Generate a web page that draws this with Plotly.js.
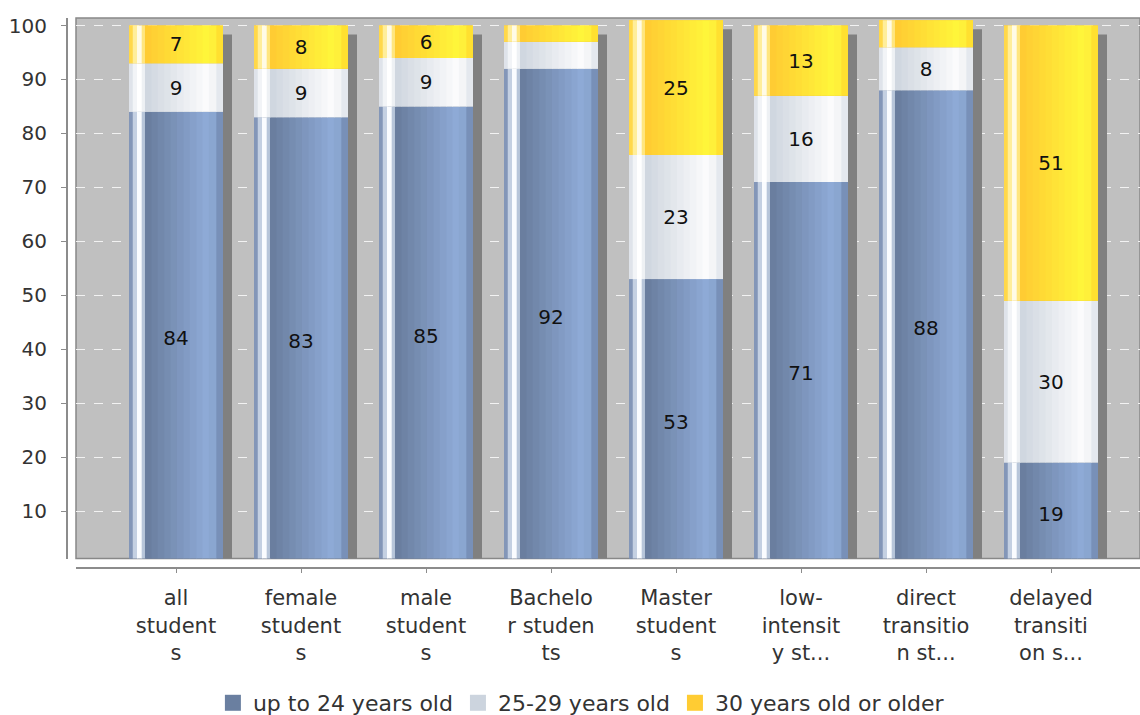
<!DOCTYPE html>
<html>
<head>
<meta charset="utf-8">
<script src="https://cdn.plot.ly/plotly-3.0.1.min.js"></script>
<style>
  html, body { margin: 0; padding: 0; background: #ffffff; }
  #chart { width: 1140px; height: 715px; }
</style>
</head>
<body>
<div id="chart"></div>
<script>
// ---- data ----
const categories = [
  "all<br>student<br>s",
  "female<br>student<br>s",
  "male<br>student<br>s",
  "Bachelo<br>r studen<br>ts",
  "Master<br>student<br>s",
  "low-<br>intensit<br>y st...",
  "direct<br>transitio<br>n st...",
  "delayed<br>transiti<br>on s..."
];
const upTo24   = [84, 83, 85, 92, 53, 71, 88, 19];
const age25to29 = [9, 9, 9, 5, 23, 16, 8, 30];
const age30plus = [7, 8, 6, 3, 25, 13, 5, 51];
const seriesNames = ["up to 24 years old", "25-29 years old", "30 years old or older"];
const yTickVals = [10, 20, 30, 40, 50, 60, 70, 80, 90, 100];

// ---- styling ----
const FONT = "DejaVu Sans, Verdana, sans-serif";
const W = 0.752;            // bar width in category units
const legendColors = ["#6a7fa0", "#ccd4de", "#ffcc33"];
// gradient stops per series: [f0, f1, colorStart, colorEnd, nStrips]
const gradients = [
  [[0.00,0.04,"#8396b8","#8396b8",1],[0.04,0.085,"#c4d0e2","#e6ecf4",1],[0.085,0.135,"#fafcff","#fafcff",1],
   [0.135,0.17,"#b8c6da","#8698b8",1],[0.17,0.85,"#6a7e9f","#8eaad6",10],[0.85,0.93,"#8aa6d0","#819bc4",1],[0.93,1.0,"#7890b8","#6f86ac",1]],
  [[0.00,0.04,"#dfe3ea","#dfe3ea",1],[0.04,0.085,"#f2f4f7","#fafbfc",1],[0.085,0.135,"#ffffff","#ffffff",1],
   [0.135,0.17,"#eef1f4","#dfe4ea",1],[0.17,0.85,"#d0d7e0","#fbfbfc",10],[0.85,0.93,"#f4f5f7","#eceff3",1],[0.93,1.0,"#e4e8ee","#dde2e9",1]],
  [[0.00,0.04,"#ffd84a","#ffd84a",1],[0.04,0.085,"#ffee9a","#fff6cc",1],[0.085,0.135,"#fffbe6","#fffbe6",1],
   [0.135,0.17,"#ffe67f","#ffd340",1],[0.17,0.85,"#ffcc33","#fff53a",10],[0.85,0.93,"#fff03a","#ffe834",1],[0.93,1.0,"#ffe030","#ffd82e",1]]
];

function hexToRgb(h){ h=h.replace('#',''); return [parseInt(h.slice(0,2),16),parseInt(h.slice(2,4),16),parseInt(h.slice(4,6),16)]; }
function mix(a,b,t){ const A=hexToRgb(a),B=hexToRgb(b); return 'rgb('+A.map((v,i)=>Math.round(v+(B[i]-v)*t)).join(',')+')'; }

const series = [upTo24, age25to29, age30plus];
const bases = [];
let running = categories.map(() => 0);
series.forEach(s => { bases.push(running.slice()); running = running.map((v, i) => v + s[i]); });
const totals = running;

const traces = [];
// shadow behind each stacked bar
traces.push({
  type: 'bar', x: categories, y: totals.map(t => t - 1.67), base: categories.map(() => 0),
  width: W, offset: -W/2 + 0.072, marker: { color: '#808080', line: { width: 0 } },
  hoverinfo: 'skip', showlegend: false
});

series.forEach((vals, si) => {
  // full-width base segment
  traces.push({
    type: 'bar', name: seriesNames[si], x: categories, y: vals, base: bases[si],
    width: W, offset: -W/2, marker: { color: legendColors[si], line: { width: 0 } },
    hoverinfo: 'skip', showlegend: false
  });
  // gradient strips
  gradients[si].forEach(([f0, f1, c0, c1, n]) => {
    for (let k = 0; k < n; k++) {
      const a = f0 + (f1 - f0) * k / n, b = f0 + (f1 - f0) * (k + 1) / n;
      const t = n > 1 ? k / (n - 1) : 0;
      traces.push({
        type: 'bar', x: categories, y: vals, base: bases[si],
        width: Math.min((b - a) * W + 0.004, W - a * W), offset: -W/2 + a * W,
        marker: { color: mix(c0, c1, t), line: { width: 0 } },
        hoverinfo: 'skip', showlegend: false
      });
    }
  });
});

// value labels
series.forEach((vals, si) => {
  traces.push({
    type: 'bar', x: categories, y: vals, base: bases[si],
    width: W, offset: -W/2, marker: { color: 'rgba(0,0,0,0)', line: { width: 0 } },
    text: vals.map(v => v >= 6 ? String(v) : ''), textposition: 'inside',
    insidetextanchor: 'middle', constraintext: 'none',
    textfont: { family: FONT, size: 20, color: '#111111' },
    hoverinfo: 'skip', showlegend: false
  });
});

// legend entries (square swatches)
series.forEach((vals, si) => {
  traces.push({
    type: 'scatter', mode: 'markers', name: seriesNames[si],
    x: [categories[0]], y: [null],
    marker: { symbol: 'square', size: 16, color: legendColors[si], line: { width: 0 } },
    hoverinfo: 'skip', showlegend: true
  });
});

const layout = {
  width: 1140, height: 715,
  margin: { l: 67, r: 0, t: 18, b: 147 },
  paper_bgcolor: '#ffffff', plot_bgcolor: '#c0c0c0',
  barmode: 'overlay', showlegend: true, hovermode: false,
  font: { family: FONT, size: 20, color: '#333333' },
  xaxis: {
    type: 'category', categoryorder: 'array', categoryarray: categories,
    range: [-0.8, 7.712], domain: [9/1073, 1], anchor: 'free', position: 0,
    showline: true, linecolor: '#8c8c8c', linewidth: 2,
    ticks: 'outside', ticklen: 4, tickcolor: '#8c8c8c', tickwidth: 1,
    ticklabelstandoff: 7,
    tickfont: { family: FONT, size: 21, color: '#333333' },
    showgrid: false, zeroline: false, fixedrange: true, automargin: false
  },
  yaxis: {
    range: [1.2, 101.4], domain: [9.5/550, 1], anchor: 'free', position: 0,
    tickvals: yTickVals, ticktext: yTickVals.map(String),
    showline: true, linecolor: '#8c8c8c', linewidth: 2,
    ticks: 'outside', ticklen: 5, tickcolor: '#8c8c8c', tickwidth: 1,
    ticklabelstandoff: 10,
    tickfont: { family: FONT, size: 20, color: '#333333' },
    showgrid: true, gridcolor: '#f2f2f2', gridwidth: 1, griddash: 'dash',
    zeroline: false, fixedrange: true, automargin: false
  },
  shapes: [{
    type: 'rect', xref: 'x domain', yref: 'y domain', x0: 0, x1: 1, y0: 0, y1: 1,
    line: { color: '#888888', width: 1.5 }, fillcolor: 'rgba(0,0,0,0)', layer: 'below'
  }],
  legend: {
    orientation: 'h', xref: 'container', yref: 'container',
    x: 0.51, xanchor: 'center', y: 0.0168, yanchor: 'middle',
    font: { family: FONT, size: 22, color: '#333333' }, traceorder: 'normal',
    itemclick: false, itemdoubleclick: false, itemsizing: 'trace'
  }
};

Plotly.newPlot('chart', traces, layout, { displayModeBar: false, staticPlot: true });
</script>
</body>
</html>
